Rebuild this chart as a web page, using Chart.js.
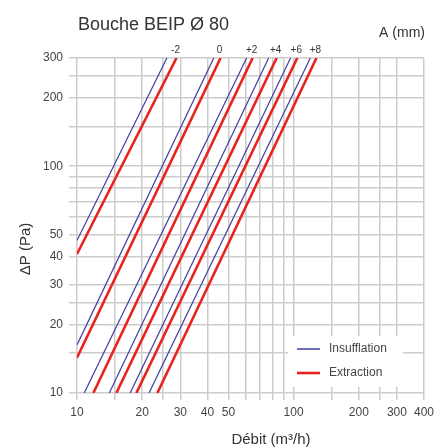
<!DOCTYPE html>
<html lang="fr">
<head>
    <meta charset="UTF-8">
    <title>Bouche BEIP Ø 80</title>
    <style>
        html, body { margin: 0; padding: 0; background: #fff; }
        #wrap { width: 439px; height: 448px; }
    </style>
</head>
<body>
    <div id="wrap">
        <canvas id="myChart"></canvas>
    </div>

    <script src="https://cdn.jsdelivr.net/npm/chart.js"></script>

    <script>
// opening A (mm), one pair of lines per value
const aLabels = ['-2', '0', '+2', '+4', '+6', '+8'];

// each line: where it enters and leaves the plot, {x: débit m3/h, y: ΔP Pa}
const insufflationLines = [
    [{x: 10, y: 47}, {x: 26, y: 300}],
    [{x: 10, y: 16.3}, {x: 42.8, y: 300}],
    [{x: 10.8, y: 10}, {x: 60.7, y: 300}],
    [{x: 14.1, y: 10}, {x: 76.7, y: 300}],
    [{x: 17.6, y: 10}, {x: 96.8, y: 300}],
    [{x: 21.5, y: 10}, {x: 119.5, y: 300}]
];
const extractionLines = [
    [{x: 10, y: 41}, {x: 28.8, y: 300}],
    [{x: 10, y: 14.3}, {x: 46, y: 300}],
    [{x: 11.9, y: 10}, {x: 64.7, y: 300}],
    [{x: 15.2, y: 10}, {x: 83.5, y: 300}],
    [{x: 18.8, y: 10}, {x: 104, y: 300}],
    [{x: 23.5, y: 10}, {x: 127.5, y: 300}]
];

// grid lines and the ones that carry a label
const xGridValues = [10, 15, 20, 25, 30, 40, 50, 60, 70, 80, 90, 100, 150, 200, 250, 300, 400];
const xTickLabels = [10, 20, 30, 40, 50, 100, 200, 300, 400];
const yGridValues = [10, 15, 20, 25, 30, 40, 50, 60, 70, 80, 90, 100, 150, 200, 250, 300];
const yTickLabels = [10, 20, 30, 40, 50, 100, 200, 300];

const FONT = '"Liberation Sans", Arial, sans-serif';
const BLUE = '#3d3f9c';
const RED = '#e8231d';
const GRID = '#cccccc';

const datasets = [];
insufflationLines.forEach((pts, i) => {
    datasets.push({
        label: 'Insufflation ' + aLabels[i],
        data: pts,
        borderColor: BLUE,
        borderWidth: 1.2
    });
});
extractionLines.forEach((pts, i) => {
    datasets.push({
        label: 'Extraction ' + aLabels[i],
        data: pts,
        borderColor: RED,
        borderWidth: 2.6
    });
});

// titles, A labels and the legend box inside the plot
const annotations = {
    id: 'annotations',
    afterDraw(chart) {
        const {ctx, chartArea, scales} = chart;
        ctx.save();
        ctx.fillStyle = '#333';
        ctx.textBaseline = 'alphabetic';

        ctx.font = '18px ' + FONT;
        ctx.textAlign = 'left';
        ctx.fillText('Bouche BEIP Ø 80', 78, 30);

        ctx.font = '14px ' + FONT;
        ctx.textAlign = 'right';
        ctx.fillText('A (mm)', 425, 37);

        ctx.font = '10px ' + FONT;
        ctx.textAlign = 'center';
        extractionLines.forEach((pts, i) => {
            const top = pts[pts.length - 1];
            ctx.fillText(aLabels[i], scales.x.getPixelForValue(top.x) - 1, chartArea.top - 5);
        });

        ctx.font = '15px ' + FONT;
        ctx.fillText('Débit (m³/h)', 271, 444);

        ctx.save();
        ctx.translate(30, 249);
        ctx.rotate(-Math.PI / 2);
        ctx.fillText('ΔP (Pa)', 0, 0);
        ctx.restore();

        // legend
        const lx = chartArea.right - 136;
        const ly = chartArea.bottom - 57;
        ctx.fillStyle = '#fff';
        ctx.fillRect(lx, ly, 115, 51);
        ctx.lineWidth = 1.5;
        ctx.strokeStyle = BLUE;
        ctx.beginPath(); ctx.moveTo(lx + 9, ly + 13); ctx.lineTo(lx + 32, ly + 13); ctx.stroke();
        ctx.lineWidth = 2.6;
        ctx.strokeStyle = RED;
        ctx.beginPath(); ctx.moveTo(lx + 9, ly + 37); ctx.lineTo(lx + 32, ly + 37); ctx.stroke();
        ctx.fillStyle = '#444';
        ctx.font = '12px ' + FONT;
        ctx.textAlign = 'left';
        ctx.textBaseline = 'middle';
        ctx.fillText('Insufflation', lx + 41, ly + 13);
        ctx.fillText('Extraction', lx + 41, ly + 37);
        ctx.restore();
    }
};

const ctx = document.getElementById('myChart').getContext('2d');
const myChart = new Chart(ctx, {
    type: 'scatter',
    data: { datasets: datasets },
    options: {
        responsive: true,
        maintainAspectRatio: false,
        animation: false,
        showLine: true,
        elements: { point: { radius: 0, hoverRadius: 0 } },
        layout: { padding: { top: 58, right: 13, left: 0, bottom: 0 } },
        plugins: {
            legend: { display: false },
            tooltip: { enabled: false }
        },
        scales: {
            x: {
                type: 'logarithmic',
                min: 10,
                max: 400,
                afterBuildTicks: s => { s.ticks = xGridValues.map(v => ({ value: v })); },
                afterFit: s => { s.height = 55; },
                ticks: {
                    autoSkip: false,
                    maxRotation: 0,
                    minRotation: 0,
                    padding: 5,
                    color: '#444',
                    font: { size: 12, family: FONT },
                    callback: v => xTickLabels.includes(v) ? String(v) : ''
                },
                grid: { color: GRID, lineWidth: 1.5, tickLength: 7 },
                border: { display: false }
            },
            y: {
                type: 'logarithmic',
                min: 10,
                max: 300,
                afterBuildTicks: s => { s.ticks = yGridValues.map(v => ({ value: v })); },
                afterFit: s => { s.width = 77; },
                ticks: {
                    autoSkip: false,
                    padding: 6,
                    color: '#444',
                    font: { size: 12, family: FONT },
                    callback: v => yTickLabels.includes(v) ? String(v) : ''
                },
                grid: { color: GRID, lineWidth: 1.5, tickLength: 8 },
                border: { display: false }
            }
        }
    },
    plugins: [annotations]
});
    </script>
</body>
</html>
